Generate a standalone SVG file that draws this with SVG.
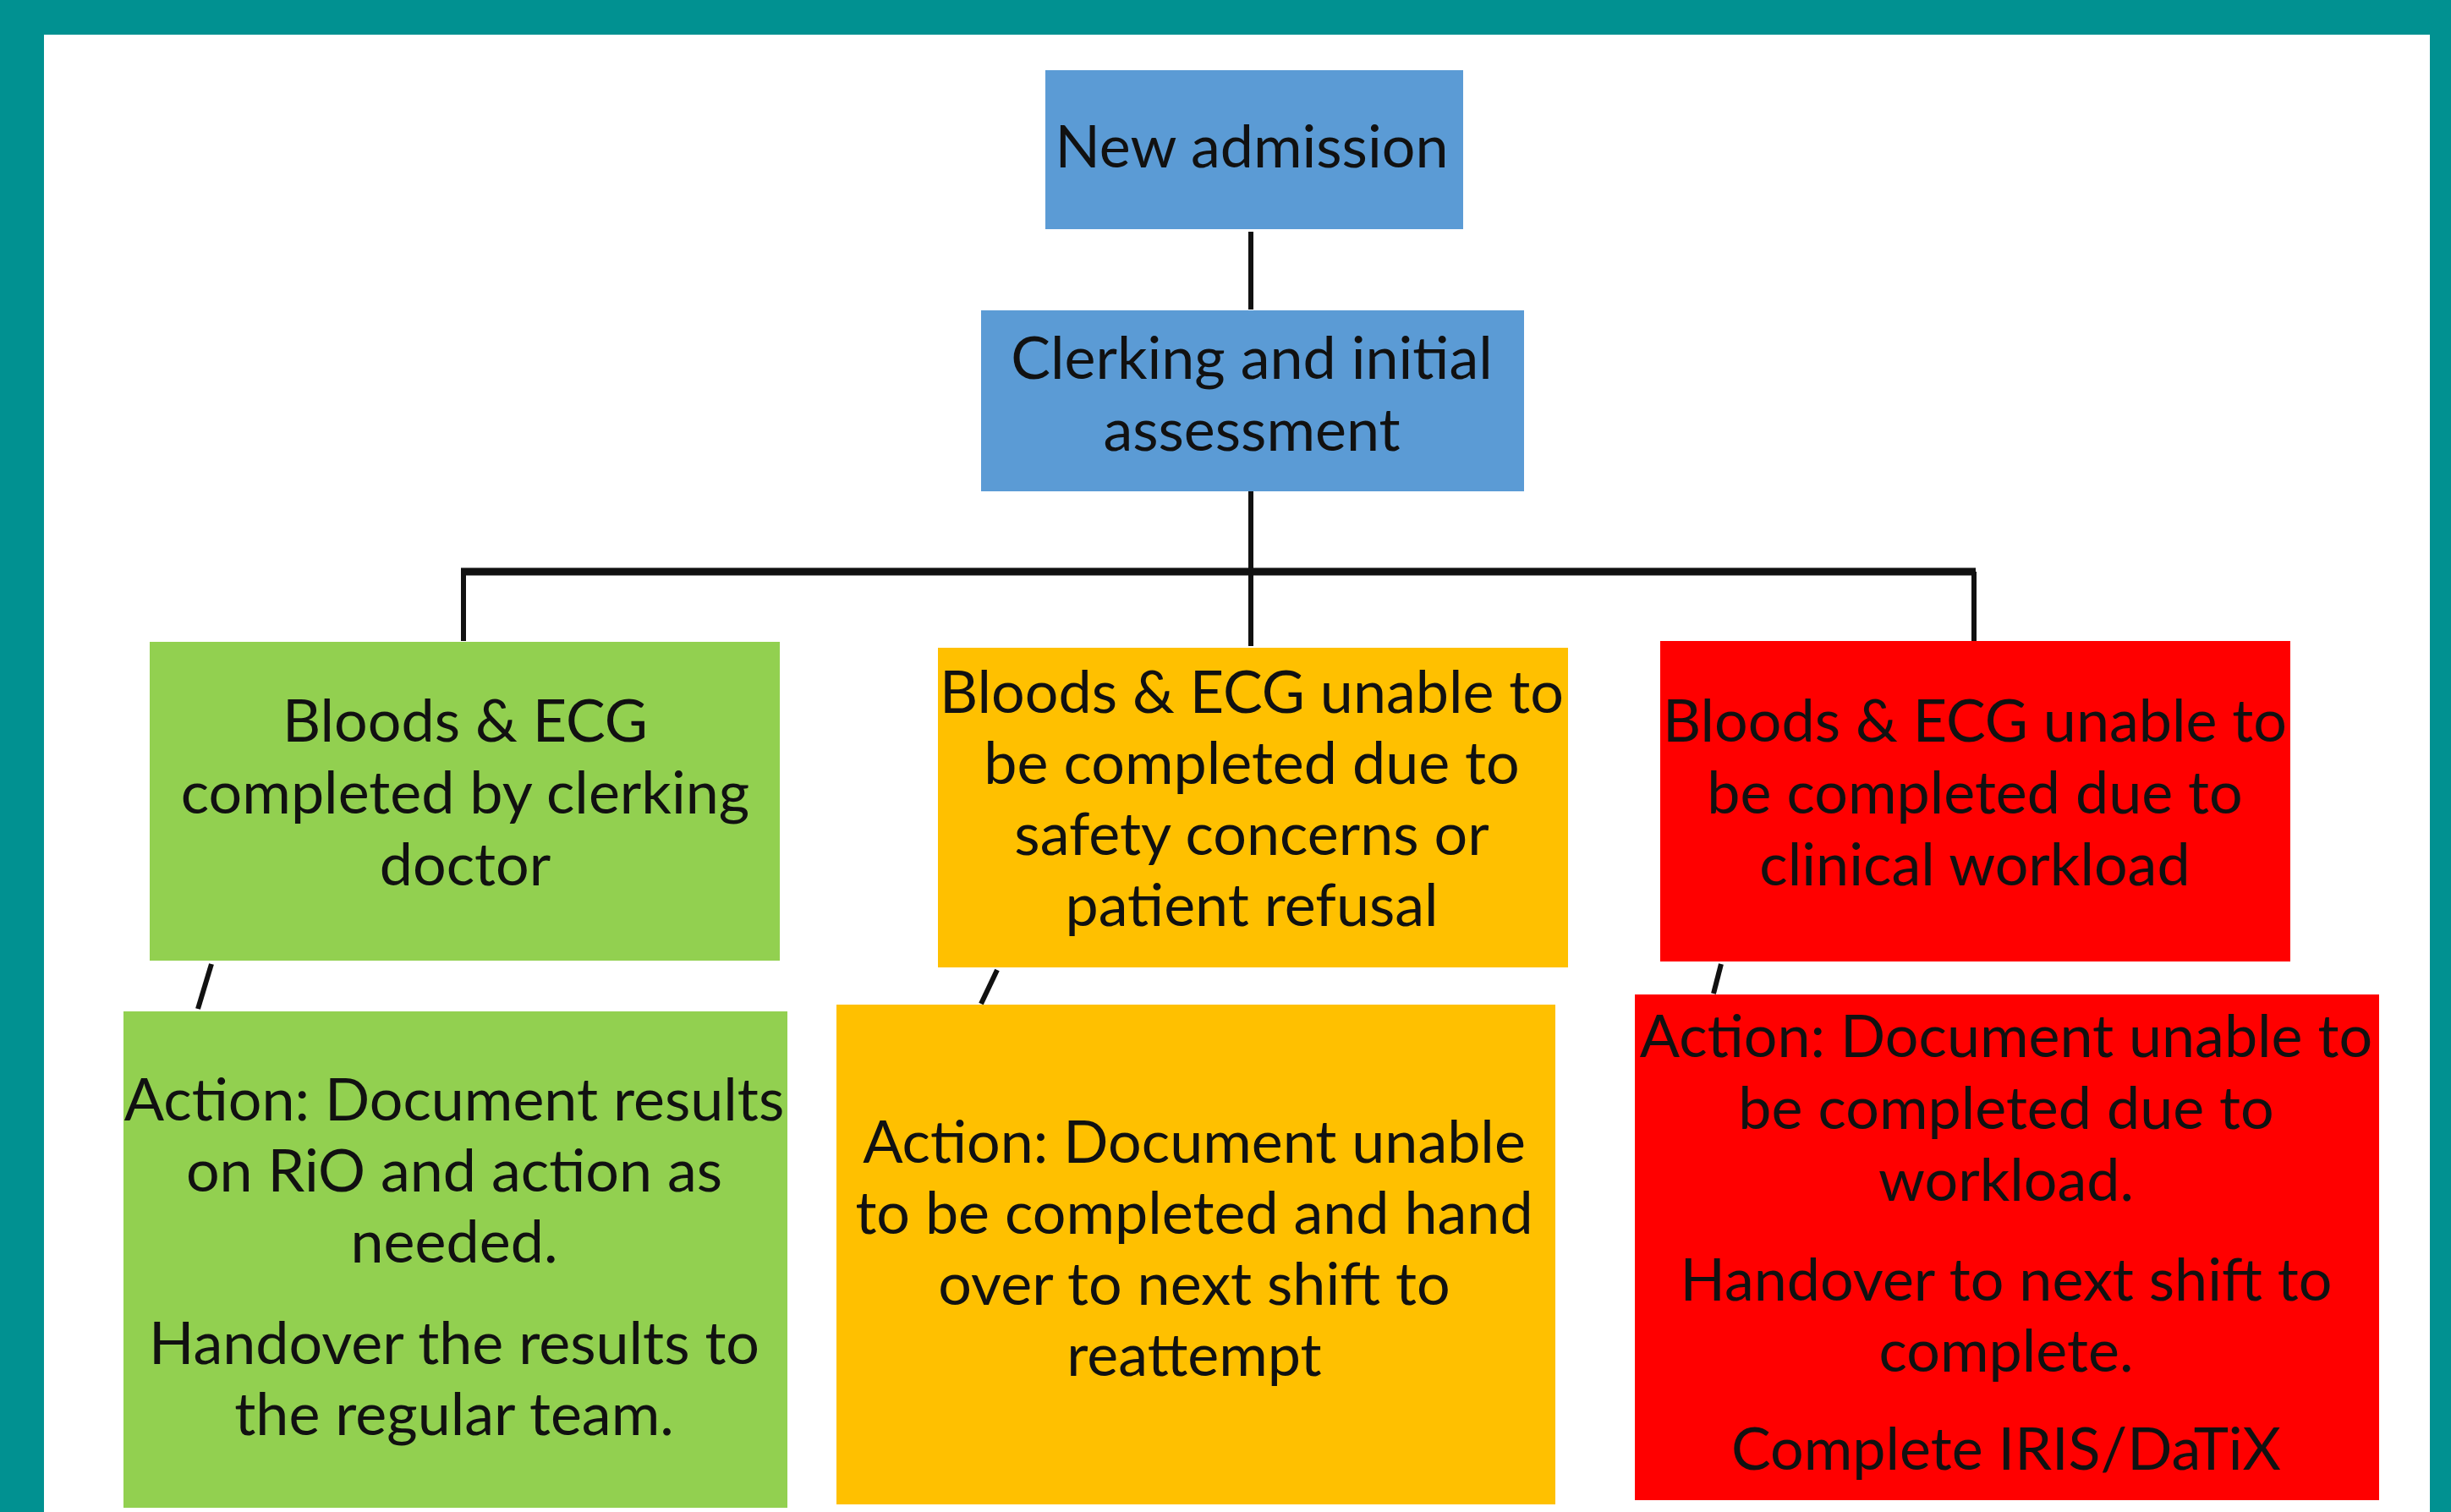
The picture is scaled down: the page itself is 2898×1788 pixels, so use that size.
<svg xmlns="http://www.w3.org/2000/svg" width="2898" height="1788" viewBox="0 0 2898 1788">
<style>
.t{font-family:Lato,"Open Sans","Liberation Sans",sans-serif;font-size:70px;fill:#111;text-anchor:middle}
.ln{stroke:#111;stroke-width:6;fill:none;stroke-linecap:butt}
.blue{fill:#5B9BD5}.green{fill:#92D050}.orange{fill:#FFC000}.red{fill:#FF0000}
</style>
<rect x="0" y="0" width="2898" height="1788" fill="#019191"/>
<rect x="52" y="41" width="2821" height="1747" fill="#FFFFFF"/>
<g id="connectors">
<line class="ln" x1="1479" y1="274" x2="1479" y2="366"/>
<line class="ln" x1="1479" y1="581" x2="1479" y2="764"/>
<line class="ln" x1="545" y1="676" x2="2336" y2="676" style="stroke-width:9"/>
<line class="ln" x1="548" y1="676" x2="548" y2="758"/>
<line class="ln" x1="2334" y1="676" x2="2334" y2="758"/>
<line class="ln" x1="250" y1="1140" x2="234" y2="1193"/>
<line class="ln" x1="1179" y1="1147" x2="1160" y2="1187"/>
<line class="ln" x1="2035" y1="1140" x2="2026" y2="1175"/>
</g>
<g id="new-admission">
<rect class="blue" x="1236" y="83" width="494" height="188"/>
<text class="t" x="1480" y="198">New admission</text>
</g>
<g id="clerking">
<rect class="blue" x="1160" y="367" width="642" height="214"/>
<text class="t" x="1480" y="448">Clerking and initial</text>
<text class="t" x="1480" y="533">assessment</text>
</g>
<g id="completed">
<rect class="green" x="177" y="759" width="745" height="377"/>
<text class="t" x="550" y="877">Bloods &amp; ECG</text>
<text class="t" x="550" y="962">completed by clerking</text>
<text class="t" x="550" y="1047">doctor</text>
</g>
<g id="safety">
<rect class="orange" x="1109" y="766" width="745" height="378"/>
<text class="t" x="1480" y="843">Bloods &amp; ECG unable to</text>
<text class="t" x="1480" y="927">be completed due to</text>
<text class="t" x="1480" y="1011">safety concerns or</text>
<text class="t" x="1480" y="1095">patient refusal</text>
</g>
<g id="workload">
<rect class="red" x="1963" y="758" width="745" height="379"/>
<text class="t" x="2335" y="877">Bloods &amp; ECG unable to</text>
<text class="t" x="2335" y="962">be completed due to</text>
<text class="t" x="2335" y="1047">clinical workload</text>
</g>
<g id="action-green">
<rect class="green" x="146" y="1196" width="785" height="587"/>
<text class="t" x="537" y="1325">Action: Document results</text>
<text class="t" x="537" y="1409">on RiO and action as</text>
<text class="t" x="537" y="1493">needed.</text>
<text class="t" x="537" y="1613">Handover the results to</text>
<text class="t" x="537" y="1697">the regular team.</text>
</g>
<g id="action-orange">
<rect class="orange" x="989" y="1188" width="850" height="591"/>
<text class="t" x="1412" y="1375">Action: Document unable</text>
<text class="t" x="1412" y="1459">to be completed and hand</text>
<text class="t" x="1412" y="1543">over to next shift to</text>
<text class="t" x="1412" y="1627">reattempt</text>
</g>
<g id="action-red">
<rect class="red" x="1933" y="1176" width="880" height="598"/>
<text class="t" x="2372" y="1250">Action: Document unable to</text>
<text class="t" x="2372" y="1335">be completed due to</text>
<text class="t" x="2372" y="1420">workload.</text>
<text class="t" x="2372" y="1538">Handover to next shift to</text>
<text class="t" x="2372" y="1622">complete.</text>
<text class="t" x="2372" y="1738">Complete IRIS/DaTiX</text>
</g>
</svg>
